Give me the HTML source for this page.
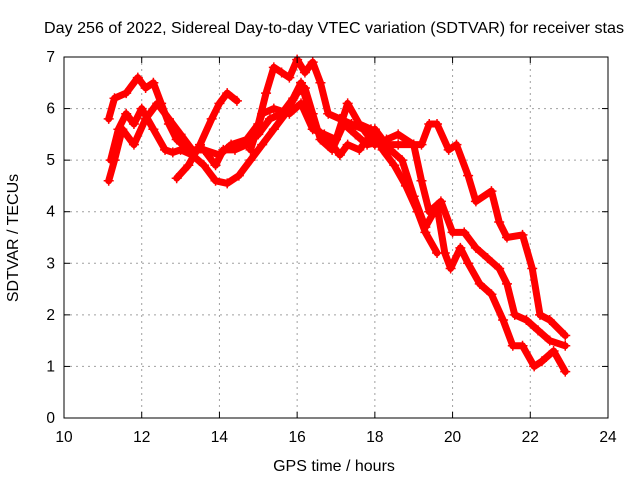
<!DOCTYPE html>
<html><head><meta charset="utf-8"><style>
html,body{margin:0;padding:0;background:#fff}
svg{display:block;font-family:"Liberation Sans",sans-serif}
</style></head><body>
<svg id="chart" width="640" height="480">
<text x="44" y="33" font-size="16" textLength="580" lengthAdjust="spacingAndGlyphs" fill="#000">Day 256 of 2022, Sidereal Day-to-day VTEC variation (SDTVAR) for receiver stas</text>
<g id="grid"></g><g id="series"></g><g id="axes"></g>
<text x="334" y="471" font-size="16" text-anchor="middle">GPS time / hours</text>
<text transform="translate(18,238) rotate(-90)" font-size="16" text-anchor="middle">SDTVAR / TECUs</text>
</svg>
<script>
const xTicks=[10,12,14,16,18,20,22,24];
const yTicks=[0,1,2,3,4,5,6,7];
const s1=[[11.15,5.8],[11.3,6.2],[11.6,6.3],[11.9,6.6],[12.1,6.4],[12.3,6.5],[12.5,6.1],[12.7,5.7],[12.9,5.4],[13.2,5.2],[13.6,5.2],[14.0,5.1],[14.3,5.3],[14.7,5.4],[15.0,5.7],[15.2,6.3],[15.4,6.8],[15.6,6.7],[15.8,6.6],[16.0,6.95],[16.2,6.7],[16.4,6.9],[16.6,6.5],[16.8,5.9],[17.1,5.8],[17.4,5.7],[17.7,5.6],[18.0,5.3],[18.3,5.4],[18.6,5.5],[19.0,5.3],[19.2,5.3],[19.4,5.7],[19.6,5.7],[19.9,5.2],[20.1,5.3],[20.4,4.7],[20.6,4.2],[21.0,4.4],[21.2,3.8],[21.4,3.5],[21.8,3.55],[22.05,2.9],[22.25,2.0],[22.5,1.9],[22.9,1.6]];
const s2=[[11.2,5.0],[11.4,5.6],[11.6,5.9],[11.8,5.7],[12.0,6.0],[12.3,5.6],[12.6,5.2],[12.8,5.15],[13.0,5.2],[13.3,5.1],[13.6,4.9],[13.9,4.6],[14.2,4.55],[14.5,4.7],[14.8,5.0],[15.1,5.3],[15.4,5.6],[15.7,5.9],[16.0,6.3],[16.2,6.4],[16.4,5.9],[16.6,5.4],[16.9,5.2],[17.2,5.7],[17.5,5.5],[17.8,5.3],[18.1,5.35],[18.4,5.2],[18.7,5.0],[19.0,4.3],[19.3,3.7],[19.6,4.1],[19.8,3.2],[19.95,2.9],[20.2,3.3],[20.4,3.0],[20.7,2.6],[21.0,2.4],[21.3,1.9],[21.55,1.4],[21.8,1.4],[22.1,1.0],[22.3,1.1],[22.6,1.3],[22.9,0.9]];
const s3=[[11.15,4.6],[11.3,5.0],[11.5,5.6],[11.8,5.3],[12.1,5.8],[12.4,6.1],[12.7,5.8],[13.0,5.5],[13.3,5.2],[13.6,5.2],[13.9,4.9],[14.1,5.2],[14.4,5.2],[14.7,5.3],[15.0,5.5],[15.3,5.8],[15.6,5.9],[15.9,6.2],[16.1,6.5],[16.3,6.0],[16.5,5.6],[16.8,5.4],[17.1,5.1],[17.3,5.3],[17.6,5.2],[18.0,5.6],[18.3,5.3],[18.6,5.3],[19.0,5.3],[19.2,4.6],[19.4,4.0],[19.7,4.2],[20.0,3.6],[20.3,3.6],[20.6,3.3],[20.9,3.1],[21.2,2.9],[21.4,2.6],[21.6,2.0],[21.9,1.9],[22.2,1.7],[22.5,1.5],[22.9,1.4]];
const s4=[[12.9,4.65],[13.2,4.9],[13.5,5.3],[13.8,5.8],[14.0,6.1],[14.2,6.3],[14.45,6.15]];
const s5=[[14.8,5.2],[15.1,5.9],[15.4,6.0],[15.8,5.9],[16.1,6.1],[16.4,5.6],[16.7,5.5],[17.0,5.4],[17.3,6.1],[17.6,5.7],[17.9,5.6],[18.2,5.2],[18.5,4.9],[18.8,4.5],[19.1,4.0],[19.3,3.6],[19.6,3.2]];
const seriesList=[s1,s2,s3,s4,s5];
const X0=64,X1=608,Y0=418,Y1=57;
const sx=v=>X0+(v-10)/14*(X1-X0);
const sy=v=>Y0-(v/7)*(Y0-Y1);
const NS="http://www.w3.org/2000/svg";
function mk(tag,attrs,parent){const e=document.createElementNS(NS,tag);for(const k in attrs)e.setAttribute(k,attrs[k]);parent.appendChild(e);return e;}
const grid=document.getElementById('grid'),axes=document.getElementById('axes'),ser=document.getElementById('series');
xTicks.forEach(t=>{const x=sx(t);
 if(t>10&&t<24){const g=mk('line',{x1:x,x2:x,y1:Y1,y2:Y0,stroke:'#a0a0a0','stroke-dasharray':'2,4'},grid);
 
 }
 mk('line',{x1:x,x2:x,y1:Y0,y2:Y0-6,stroke:'#000'},axes);
 mk('line',{x1:x,x2:x,y1:Y1,y2:Y1+6,stroke:'#000'},axes);
 const l=mk('text',{x:x,y:Y0+24,'font-size':15.5,'text-anchor':'middle'},axes);l.textContent=t;
 
 });
yTicks.forEach(t=>{const y=sy(t);
 if(t>0&&t<7){const g=mk('line',{x1:X0,x2:X1,y1:y,y2:y,stroke:'#a0a0a0','stroke-dasharray':'2,4'},grid);
 
 }
 mk('line',{x1:X0,x2:X0+6,y1:y,y2:y,stroke:'#000'},axes);
 mk('line',{x1:X1,x2:X1-6,y1:y,y2:y,stroke:'#000'},axes);
 const l=mk('text',{x:X0-9,y:y+5,'font-size':15.5,'text-anchor':'end'},axes);l.textContent=t;
 
 });
const frame=mk('rect',{x:X0,y:Y1,width:X1-X0,height:Y0-Y1,fill:'none',stroke:'#000'},axes);


seriesList.forEach((s,i)=>{
 const g=mk('g',{},ser);
 
 
 mk('polyline',{points:s.map(p=>sx(p[0])+','+sy(p[1])).join(' '),fill:'none',stroke:'#f00','stroke-width':7,'stroke-linejoin':'round','stroke-linecap':'round'},g);
 s.forEach(p=>{const x=sx(p[0]),y=sy(p[1]);
  const m=mk('path',{d:`M${x-5},${y}H${x+5}M${x},${y-5}V${y+5}`,stroke:'#f00','stroke-width':1.5},g);
  
  });
});
</script>
</body></html>
